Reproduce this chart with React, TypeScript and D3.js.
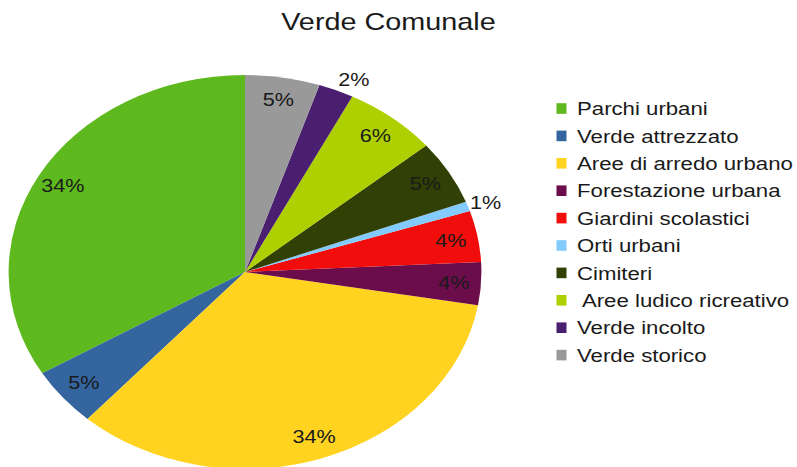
import React, { useEffect, useRef } from "react";
import * as d3 from "d3";

// data (share of total, %)
const categories = [
  "Parchi urbani",
  "Verde attrezzato",
  "Aree di arredo urbano",
  "Forestazione urbana",
  "Giardini scolastici",
  "Orti urbani",
  "Cimiteri",
  " Aree ludico ricreativo",
  "Verde incolto",
  "Verde storico",
];
const values = [33.6, 4.8, 33.9, 3.5, 4.2, 0.8, 5.3, 6.4, 2.4, 5.1];
const colors = [
  "#5eb91e",
  "#34659f",
  "#ffd320",
  "#6b0d4b",
  "#f20d0d",
  "#83caff",
  "#314004",
  "#aecf00",
  "#4b1f6f",
  "#999999",
];
const title = "Verde Comunale";

const App = () => {
  const ref = useRef<SVGSVGElement>(null);

  useEffect(() => {
    const width = 797;
    const height = 467;
    const sx = 1.2; // the whole chart is stretched horizontally
    const radius = 197;
    const cx = 245 / sx;
    const cy = 272;
    const font = "'Liberation Sans', Arial, sans-serif";

    const svg = d3.select(ref.current);
    svg.selectAll("*").remove();
    svg.attr("width", width).attr("height", height);

    const root = svg.append("g").attr("transform", `scale(${sx},1)`);

    root
      .append("text")
      .attr("x", 388.5 / sx)
      .attr("y", 30)
      .attr("text-anchor", "middle")
      .style("font-family", font)
      .style("font-size", "24px")
      .attr("fill", "#1a1a1a")
      .text(title);

    const data = categories.map((c, i) => ({ name: c, value: values[i], color: colors[i] }));
    const total = d3.sum(values);

    const pie = d3
      .pie<any>()
      .sort(null)
      .value((d) => d.value)
      .startAngle(0)
      .endAngle(-2 * Math.PI);

    const arc = d3.arc<any>().innerRadius(0).outerRadius(radius);

    const g = root.append("g").attr("transform", `translate(${cx},${cy})`);
    const arcs = pie(data);

    g.selectAll("path")
      .data(arcs)
      .join("path")
      .attr("d", arc)
      .attr("fill", (d) => d.data.color);

    const small = (d: any) => d.data.value < 3;

    g.selectAll("text")
      .data(arcs)
      .join("text")
      .attr("transform", (d) => {
        const a = (d.startAngle + d.endAngle) / 2;
        if (small(d)) {
          // outside label, anchored at the rim
          const x = Math.sin(a) * radius + 2 / sx;
          const y = -Math.cos(a) * radius - Math.cos(a) * 11;
          return `translate(${x},${y})`;
        }
        const r = radius * 0.885;
        return `translate(${Math.sin(a) * r},${-Math.cos(a) * r})`;
      })
      .attr("dy", "0.35em")
      .attr("text-anchor", (d) => (small(d) ? "start" : "middle"))
      .style("font-family", font)
      .style("font-size", "18px")
      .attr("fill", "#1a1a1a")
      .text((d) => `${Math.round((d.data.value / total) * 100)}%`);

    const rowH = 27.4;
    const legend = root
      .append("g")
      .attr("transform", `translate(${556.5 / sx},108.5)`);
    const rows = legend
      .selectAll("g")
      .data(data)
      .join("g")
      .attr("transform", (_d, i) => `translate(0,${i * rowH})`);
    rows
      .append("rect")
      .attr("x", 0)
      .attr("y", -5.3)
      .attr("width", 10 / sx)
      .attr("height", 10.6)
      .attr("fill", (d) => d.color);
    rows
      .append("text")
      .attr("x", (577 - 556.5) / sx)
      .attr("y", 0)
      .attr("dy", "0.36em")
      .style("font-family", font)
      .style("font-size", "18.5px")
      .style("white-space", "pre")
      .attr("fill", "#1a1a1a")
      .text((d) => d.name);
  }, []);

  return (
    <svg
      ref={ref}
      style={{ position: "absolute", left: 0, top: 0, display: "block", background: "#fff" }}
    />
  );
};

export default App;
